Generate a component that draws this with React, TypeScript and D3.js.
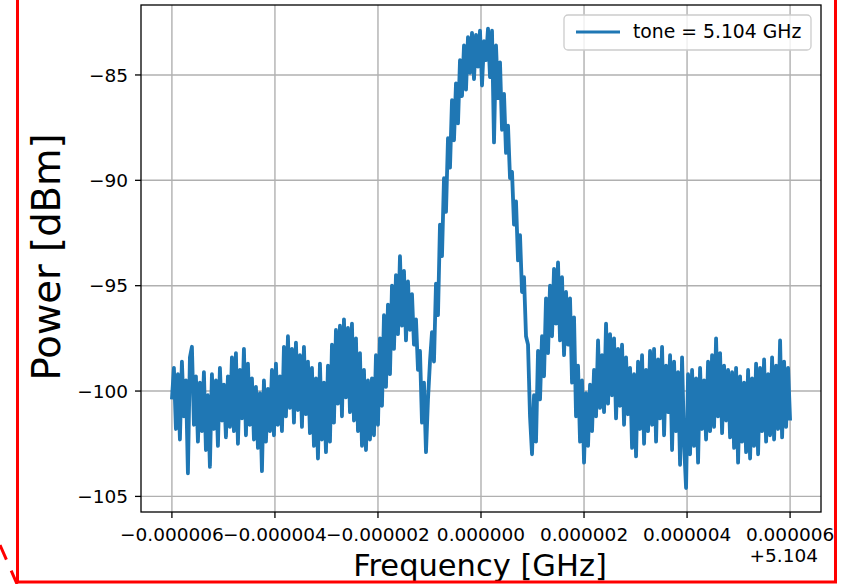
import { useEffect } from "react";
import * as d3 from "d3";

// spectrum, evenly spaced from -6e-6 to +6e-6 GHz around 5.104 GHz
const powerDbm: number[] = [
  -100.4, -98.9, -101.8, -99.2, -102.3, -98.6, -101.2, -99.5, -103.9, -98.4,
  -97.9, -101.6, -99.3, -102.4, -99.6, -101.9, -99.1, -102.8, -100.2, -103.6,
  -99.2, -101.8, -99.5, -102.6, -98.9, -101.4, -99.7, -102.2, -99.3, -101.7,
  -98.4, -101.9, -98.2, -102.5, -99.0, -101.3, -98.0, -102.1, -98.7, -101.6,
  -99.4, -102.3, -99.8, -102.7, -100.1, -103.8, -99.5, -102.4, -99.9, -101.9,
  -99.0, -102.1, -98.7, -101.6, -99.3, -101.9, -97.9, -101.2, -97.4, -100.8,
  -98.0, -101.5, -97.7, -100.9, -98.3, -101.7, -97.9, -101.1, -98.6, -102.0,
  -98.9, -102.6, -99.4, -103.2, -98.7, -102.3, -99.6, -102.9, -98.8, -102.4,
  -97.8, -101.5, -97.1, -100.6, -96.9, -101.2, -96.6, -100.3, -97.0, -101.0,
  -96.8, -101.4, -97.5, -101.9, -98.2, -102.6, -99.0, -102.8, -99.5, -102.3,
  -99.4, -102.1, -98.3, -101.6, -97.5, -100.7, -96.4, -99.8, -95.9, -99.2,
  -95.0, -98.0, -94.5, -97.3, -93.6, -96.9, -94.3, -97.6, -94.8, -97.1,
  -95.4, -97.8, -96.6, -99.0, -98.1, -101.5, -99.6, -102.9, -100.4, -98.6,
  -97.2, -98.6, -94.9, -96.4, -92.1, -93.6, -89.9, -91.5, -88.0, -89.4,
  -86.2, -88.1, -85.4, -87.3, -84.3, -86.0, -83.6, -85.7, -83.2, -84.9,
  -83.0, -85.2, -83.1, -84.6, -82.9, -85.5, -83.4, -84.3, -82.8, -85.1,
  -82.9, -88.2, -83.6, -86.1, -84.4, -87.6, -85.9, -88.7, -87.4, -89.9,
  -89.6, -92.1, -91.0, -93.8, -92.6, -95.3, -94.6, -97.4, -97.8, -101.2,
  -103.0, -100.2, -102.4, -98.1, -100.4, -97.4, -99.3, -95.6, -98.2, -95.0,
  -97.4, -94.2, -96.8, -93.9, -97.6, -94.6, -98.3, -95.3, -97.8, -95.6,
  -99.6, -96.5, -101.2, -98.8, -102.4, -99.5, -103.4, -100.1, -102.6, -99.7,
  -101.9, -99.0, -101.2, -97.6, -100.8, -98.3, -101.0, -96.8, -100.6, -97.3,
  -100.2, -97.5, -101.3, -98.0, -100.7, -97.8, -101.6, -98.4, -101.1, -98.9,
  -102.7, -99.2, -103.1, -98.6, -101.8, -98.3, -102.5, -99.0, -101.9, -98.1,
  -101.6, -98.0, -102.4, -98.5, -101.3, -97.9, -102.1, -98.8, -101.0, -98.3,
  -102.8, -98.6, -101.9, -99.1, -103.5, -98.4, -102.5, -104.6, -99.2, -103.0,
  -99.0, -102.6, -99.4, -103.4, -98.9, -101.8, -99.5, -102.3, -98.6, -101.9,
  -98.3, -101.7, -97.5, -101.2, -98.2, -102.0, -98.8, -101.4, -99.0, -102.2,
  -99.1, -102.7, -98.9, -103.4, -99.3, -102.4, -99.6, -102.9, -99.0, -103.2,
  -99.4, -102.6, -98.7, -103.0, -98.9, -101.9, -98.5, -102.4, -99.2, -102.1,
  -98.4, -102.3, -98.8, -101.8, -97.6, -102.2, -98.6, -101.7, -98.9, -101.4,
];

const freqSpan: [number, number] = [-6e-6, 6e-6];
const xTicks = [-6e-6, -4e-6, -2e-6, 0, 2e-6, 4e-6, 6e-6];
const yTicks = [-105, -100, -95, -90, -85];
const legendLabel = "tone = 5.104 GHz";
const offsetLabel = "+5.104";

const FONT = "DejaVu Sans, Verdana, sans-serif";
const BLUE = "#1f77b4";

export default function App() {
  useEffect(() => {
    document.body.style.margin = "0";
  }, []);

  const width = 846;
  const height = 584;
  const plot = { left: 141, right: 821, top: 5, bottom: 512 };

  const x = d3.scaleLinear().domain([-6.6e-6, 6.6e-6]).range([plot.left, plot.right]);
  const y = d3.scaleLinear().domain([-105.74, -81.68]).range([plot.bottom, plot.top]);
  const idx = d3.scaleLinear().domain([0, powerDbm.length - 1]).range(freqSpan);

  const line = d3
    .line<number>()
    .x((_, i) => x(idx(i)))
    .y((d) => y(d));

  const fmtX = (v: number) => {
    const s = Math.abs(v * 1e6) < 1e-9 ? "0.000000" : Math.abs(v).toFixed(6);
    return v < -1e-12 ? "\u2212" + s : s;
  };
  const fmtY = (v: number) => (v < 0 ? "\u2212" + Math.abs(v) : String(v));

  return (
    <svg width={width} height={height} style={{ display: "block", background: "#fff" }} fontFamily={FONT}>
      {/* grid */}
      <g stroke="#b0b0b0" strokeWidth={1.4}>
        {xTicks.map((t) => (
          <line key={"gx" + t} x1={x(t)} x2={x(t)} y1={plot.top} y2={plot.bottom} />
        ))}
        {yTicks.map((t) => (
          <line key={"gy" + t} x1={plot.left} x2={plot.right} y1={y(t)} y2={y(t)} />
        ))}
      </g>

      <path
        d={line(powerDbm) ?? ""}
        fill="none"
        stroke={BLUE}
        strokeWidth={3.8}
        strokeLinejoin="round"
      />

      {/* spines */}
      <rect
        x={plot.left}
        y={plot.top}
        width={plot.right - plot.left}
        height={plot.bottom - plot.top}
        fill="none"
        stroke="#000"
        strokeWidth={1.3}
      />

      {/* ticks */}
      <g fontSize={18.5} fill="#000">
        {xTicks.map((t) => (
          <g key={"tx" + t}>
            <line x1={x(t)} x2={x(t)} y1={plot.bottom} y2={plot.bottom + 6} stroke="#000" strokeWidth={1.3} />
            <text x={x(t)} y={541} textAnchor="middle">
              {fmtX(t)}
            </text>
          </g>
        ))}
        {yTicks.map((t) => (
          <g key={"ty" + t}>
            <line x1={plot.left - 6} x2={plot.left} y1={y(t)} y2={y(t)} stroke="#000" strokeWidth={1.3} />
            <text x={128} y={y(t)} dy="0.36em" textAnchor="end">
              {fmtY(t)}
            </text>
          </g>
        ))}
        <text x={818} y={562} textAnchor="end">
          {offsetLabel}
        </text>
      </g>

      {/* axis labels */}
      <text x={480} y={576} textAnchor="middle" fontSize={30.5}>
        Frequency [GHz]
      </text>
      <text transform="translate(60,257) rotate(-90)" textAnchor="middle" fontSize={38.5}>
        Power [dBm]
      </text>

      {/* legend */}
      <g>
        <rect x={564} y={15} width={247} height={35} rx={4} fill="#fff" fillOpacity={0.8} stroke="#cccccc" strokeWidth={1.3} />
        <line x1={576} x2={620} y1={32} y2={32} stroke={BLUE} strokeWidth={2.8} />
        <text x={633} y={38} fontSize={18.8}>
          {legendLabel}
        </text>
      </g>

      {/* red outline from the screenshot */}
      <rect x={17.5} y={-10} width={818} height={592} fill="none" stroke="#ff0000" strokeWidth={3} />
      <line x1={0} y1={545} x2={17} y2={584} stroke="#ff0000" strokeWidth={3} strokeDasharray="16 12" />
    </svg>
  );
}
